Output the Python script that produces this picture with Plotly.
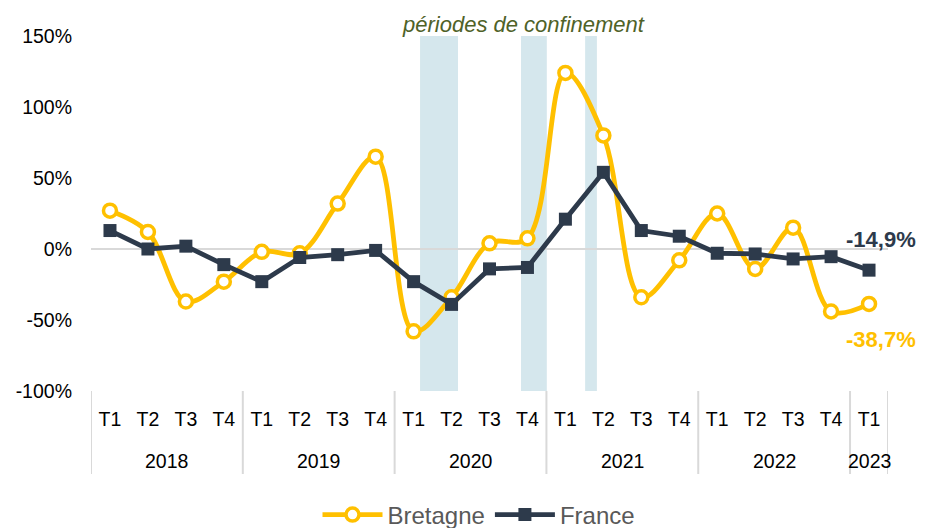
import plotly.graph_objects as go

years_list = ["2018", "2019", "2020", "2021", "2022", "2023"]
years = ["2018"] * 4 + ["2019"] * 4 + ["2020"] * 4 + ["2021"] * 4 + ["2022"] * 4 + ["2023"]
quarters = ["T1", "T2", "T3", "T4"] * 5 + ["T1"]
categories = [f"{q} {y}" for q, y in zip(quarters, years)]

bretagne = [27, 12, -37, -23, -2, -3, 32, 65, -58, -34, 4, 7.5,
            124, 80, -34, -8, 25, -14, 15, -44, -38.7]
france = [13, 0, 2, -11, -23, -6, -4, -1, -23, -39, -14, -13,
          21, 54, 13, 9, -3, -3.5, -7, -5.4, -14.9]

# confinement periods in category-index units
confinements = [(8.17, 9.17), (10.83, 11.51), (12.52, 12.83)]

y_ticks = [-100, -50, 0, 50, 100, 150]
y_ticktext = ["-100%", "-50%", "0%", "50%", "100%", "150%"]

YELLOW = "#FFC000"
NAVY = "#2D3A4B"
FONT = "Liberation Sans"

# page body has an 8px offset
OFF = 8
PL, PR, PT, PB = 91, 888, 36, 391  # plot area in page pixels
L, T = PL - OFF, PT - OFF
R = (935 + OFF) - PR
B = (528 + OFF) - PB
PW, PH = PR - PL, PB - PT

fig = go.Figure()

fig.add_trace(go.Scatter(
    x=categories, y=bretagne, name="Bretagne",
    mode="lines+markers",
    line=dict(color=YELLOW, width=4.8, shape="spline", smoothing=1.0),
    marker=dict(symbol="circle", size=13, color="white",
                line=dict(color=YELLOW, width=3.5)),
))
fig.add_trace(go.Scatter(
    x=categories, y=france, name="France",
    mode="lines+markers",
    line=dict(color=NAVY, width=4.8),
    marker=dict(symbol="square", size=13, color=NAVY),
))

for x0, x1 in confinements:
    fig.add_shape(type="rect", xref="x", yref="y", x0=x0, x1=x1,
                  y0=-100, y1=150, fillcolor="#D5E7ED", line=dict(width=0),
                  layer="below")

# year group dividers and labels
starts = []
idx = 0
for yr in years_list:
    n = years.count(yr)
    starts.append((idx, n))
    idx += n
div_positions = [s - 0.5 for s, _ in starts] + [len(categories) - 0.5]
for xd in div_positions:
    fig.add_shape(type="line", xref="x", yref="paper", x0=xd, x1=xd,
                  y0=0, y1=-83 / PH, line=dict(color="#D9D9D9", width=2))
for (s, n), yr in zip(starts, years_list):
    fig.add_annotation(text=yr, xref="x", yref="paper", x=s + (n - 1) / 2,
                       y=-(461 - PB) / PH, yanchor="middle", xanchor="center",
                       showarrow=False,
                       font=dict(family=FONT, size=19.5, color="#000000"))

fig.add_annotation(text="périodes de confinement", xref="paper", yref="paper",
                   x=(523 - PL) / PW, y=(PB - 24) / PH, yanchor="middle",
                   xanchor="center", showarrow=False,
                   font=dict(family=FONT, size=22, color="#4F6228", style="italic"))

fig.add_annotation(text="<b>-14,9%</b>", xref="paper", yref="y",
                   x=(881 - PL) / PW, y=france[-1], yshift=31, xanchor="center",
                   showarrow=False, font=dict(family=FONT, size=22, color=NAVY))
fig.add_annotation(text="<b>-38,7%</b>", xref="paper", yref="y",
                   x=(881 - PL) / PW, y=bretagne[-1], yshift=-36, xanchor="center",
                   showarrow=False, font=dict(family=FONT, size=22, color=YELLOW))

fig.update_layout(
    width=935, height=528,
    margin=dict(l=L, r=R, t=T, b=B, autoexpand=False),
    paper_bgcolor="white", plot_bgcolor="white",
    font=dict(family=FONT, size=19.5, color="#000000"),
    showlegend=True,
    legend=dict(orientation="h", x=(479 - PL) / PW, xanchor="center",
                y=-(515 - PB) / PH, yanchor="middle",
                font=dict(size=24, color="#595959"), itemwidth=60),
)
fig.update_xaxes(
    type="category", showgrid=False, showline=False, ticks="",
    tickvals=categories, ticktext=quarters, automargin=False,
    range=[-0.5, len(categories) - 0.5], ticklabelstandoff=14,
    tickfont=dict(size=19.5, color="#000000"),
)
fig.update_yaxes(
    range=[-100, 150], tickvals=y_ticks, ticktext=y_ticktext, automargin=False,
    showgrid=False, zeroline=True, zerolinecolor="#D9D9D9", zerolinewidth=2,
    showline=False, ticks="", ticklabelstandoff=18,
    tickfont=dict(size=19.5, color="#000000"),
)

fig.write_html("out.html")
